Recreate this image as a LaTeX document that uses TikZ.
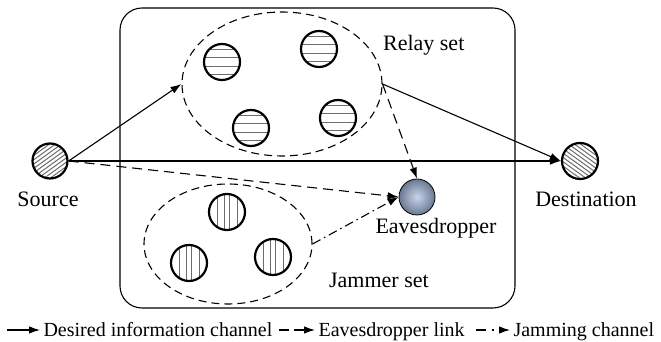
\documentclass[tikz,border=0pt]{standalone}
\usepackage{fontspec}
\setmainfont{Liberation Serif}
\usetikzlibrary{arrows.meta,shapes.geometric}

\definecolor{evecore}{RGB}{200,212,234}
\definecolor{evemid}{RGB}{132,146,172}
\definecolor{eveedge}{RGB}{58,64,84}
\definecolor{eveouter}{RGB}{18,20,28}
\pgfdeclareradialshading{eveball}{\pgfpoint{0bp}{0bp}}{color(0bp)=(evecore); color(18bp)=(evemid); color(40bp)=(eveedge); color(50bp)=(eveouter)}

\begin{document}
\begin{tikzpicture}[x=1pt, y=1pt,
	>={Latex[length=11pt,width=7.5pt]},
	every path/.style={line width=1.1pt},
	hatchleft/.style={circle, draw, line width=2.2pt, minimum size=35pt, inner sep=0pt,
		path picture={\foreach \k in {-6,...,6}
			\draw[gray!85!black, line width=1pt] ([shift={(\k*6-25,-18)}]path picture bounding box.center) -- ++(50,36);}},
	hatchright/.style={circle, draw, line width=2.2pt, minimum size=36pt, inner sep=0pt,
		path picture={\foreach \k in {-6,...,6}
			\draw[gray!85!black, line width=1pt] ([shift={(\k*6-25,18)}]path picture bounding box.center) -- ++(50,-36);}},
	relaynode/.style={circle, draw, line width=2.2pt, minimum size=36pt, inner sep=0pt, fill=white,
		path picture={\foreach \dy in {12,4,-5,-13}
			\draw[gray!85!black, line width=1pt] ([shift={(-25,\dy)}]path picture bounding box.center) -- ++(50,0);}},
	jamnode/.style={circle, draw, line width=2.2pt, minimum size=36pt, inner sep=0pt, fill=white,
		path picture={\foreach \dx in {-10,-3,2,10}
			\draw[gray!85!black, line width=1pt] ([shift={(\dx,-25)}]path picture bounding box.center) -- ++(0,50);}},
	evenode/.style={circle, draw, line width=0.8pt, minimum size=36pt, inner sep=0pt, shade, shading=eveball},
	setnode/.style={ellipse, draw, dash pattern=on 8pt off 5pt, inner sep=0pt},
	namelabel/.style={inner sep=0pt, font=\fontsize{22}{26}\selectfont},
	keylabel/.style={inner sep=0pt, anchor=base west, font=\fontsize{20}{24}\selectfont},
	eaveslink/.style={->, dash pattern=on 10pt off 6pt},
	jamlink/.style={->, dash pattern=on 9pt off 4pt on 1.5pt off 4pt},
	]
	\useasboundingbox (0,0) rectangle (661,342);
	
	%Frame
	\draw[rounded corners=22pt] (120,34) rectangle (515,334);
	
	%Nodes
	\node[hatchleft]	(src)	at (50,181)		{};
	\node[hatchright]	(dst)	at (580,181)	{};
	\node[setnode, minimum width=200pt, minimum height=144pt]	(relay)	at (282,258)	{};
	\node[setnode, minimum width=168pt, minimum height=120pt]	(jam)	at (228,98)		{};
	\node[relaynode]	(r1)	at (222,280)	{};
	\node[relaynode]	(r2)	at (319,293)	{};
	\node[relaynode]	(r3)	at (251,214)	{};
	\node[relaynode]	(r4)	at (338,224)	{};
	\node[jamnode]		(j1)	at (227,130)	{};
	\node[jamnode]		(j2)	at (189,79)		{};
	\node[jamnode]		(j3)	at (273,85)		{};
	\node[evenode]		(eve)	at (417,145)	{};
	
	%Labels
	\node[namelabel, node distance=38pt, below of=src, xshift=-2pt]	(srclbl)	{Source};
	\node[namelabel, node distance=38pt, below of=dst, xshift=6pt]	(dstlbl)	{Destination};
	\node[namelabel, node distance=31pt, below of=eve, xshift=19pt]	(evelbl)	{Eavesdropper};
	\node[namelabel, anchor=west]	(relaylbl)	at ([yshift=39pt]relay.east)	{Relay set};
	\node[namelabel, anchor=west]	(jamlbl)	at ([xshift=16pt,yshift=-36pt]jam.east)	{Jammer set};
	
	%Lines
	\draw[->] (src.east) -- (relay.west);
	\draw[->] (src.east) -- (dst.west);
	\draw[->] (relay.east) -- (dst.west);
	\draw[eaveslink] (relay.east) -- (eve.north);
	\draw[eaveslink] (src.east) -- (eve.west);
	\draw[jamlink] (jam.east) -- (eve.west);
	
	%Legend
	\coordinate (k1a) at (7,12);	\coordinate (k1b) at (40,12);
	\coordinate (k2a) at (279,12);	\coordinate (k2b) at (315,12);
	\coordinate (k3a) at (476,12);	\coordinate (k3b) at (510,12);
	\draw[->] (k1a) -- (k1b);
	\draw[eaveslink, dash pattern=on 10pt off 5pt] (k2a) -- (k2b);
	\draw[jamlink, dash pattern=on 10pt off 6pt on 1.5pt off 6pt] (k3a) -- (k3b);
	\node[keylabel]	(key1)	at (43,5)	{Desired information channel};
	\node[keylabel]	(key2)	at (318,5)	{Eavesdropper link};
	\node[keylabel]	(key3)	at (513,5)	{Jamming channel};
	
\end{tikzpicture}
\end{document}
